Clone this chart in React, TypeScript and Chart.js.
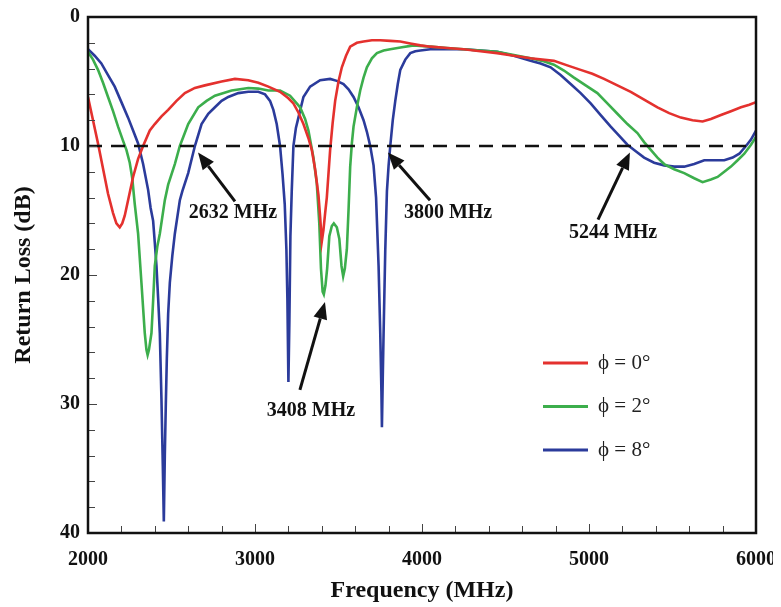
import React, { useEffect, useRef } from "react";
import { Chart, registerables } from "chart.js";

Chart.register(...registerables);

const FONT = '"Liberation Serif", "Times New Roman", serif';

// ---- data (frequency in MHz, return loss in dB) ----
const phi0Freq = [2000, 2060, 2120, 2150, 2170, 2190, 2205, 2220, 2240, 2270, 2300, 2330, 2370, 2400, 2440, 2480, 2530, 2580, 2640, 2700, 2800, 2880, 2960, 3020, 3080, 3150, 3200, 3230, 3260, 3290, 3320, 3340, 3360, 3380, 3390, 3400, 3410, 3420, 3430, 3450, 3465, 3480, 3500, 3520, 3545, 3570, 3610, 3650, 3700, 3750, 3810, 3870, 3930, 3990, 4050, 4150, 4250, 4350, 4450, 4550, 4650, 4790, 4870, 4950, 5020, 5090, 5170, 5250, 5330, 5410, 5480, 5550, 5620, 5680, 5730, 5790, 5850, 5910, 5960, 6000];
const phi0Loss = [6.2, 9.8, 13.7, 15.2, 16.0, 16.3, 16.0, 15.4, 14.2, 12.4, 11.0, 10.0, 8.8, 8.3, 7.7, 7.2, 6.5, 5.9, 5.5, 5.3, 5.0, 4.8, 4.9, 5.1, 5.4, 5.8, 6.3, 6.7, 7.4, 8.3, 9.4, 10.3, 11.8, 13.8, 15.5, 17.4, 16.5, 15.2, 14.0, 10.3, 8.2, 6.5, 5.0, 3.9, 3.0, 2.3, 2.0, 1.9, 1.8, 1.8, 1.85, 1.9, 2.05, 2.2, 2.3, 2.4, 2.5, 2.65, 2.8, 3.0, 3.2, 3.4, 3.75, 4.1, 4.4, 4.8, 5.3, 5.8, 6.4, 7.0, 7.45, 7.8, 8.0, 8.1, 7.9, 7.6, 7.3, 7.0, 6.8, 6.6];

const phi2Freq = [2000, 2030, 2060, 2090, 2120, 2150, 2180, 2210, 2230, 2250, 2265, 2280, 2300, 2320, 2340, 2350, 2357, 2365, 2380, 2390, 2400, 2415, 2430, 2460, 2480, 2520, 2550, 2600, 2660, 2710, 2760, 2860, 2960, 3020, 3080, 3150, 3210, 3270, 3300, 3320, 3350, 3370, 3385, 3395, 3405, 3412, 3422, 3432, 3445, 3460, 3472, 3490, 3505, 3518, 3528, 3538, 3550, 3560, 3570, 3580, 3590, 3610, 3630, 3650, 3670, 3700, 3730, 3770, 3810, 3880, 3950, 4050, 4150, 4250, 4350, 4450, 4550, 4650, 4720, 4790, 4850, 4910, 4980, 5050, 5110, 5170, 5230, 5290, 5330, 5370, 5410, 5450, 5510, 5570, 5630, 5680, 5730, 5770, 5810, 5850, 5890, 5930, 5970, 6000];
const phi2Loss = [2.7, 3.3, 4.1, 5.1, 6.2, 7.3, 8.5, 9.6, 10.3, 11.3, 12.5, 14.5, 16.8, 20.6, 24.5, 25.8, 26.2, 25.8, 24.5, 22.0, 19.3, 17.8, 16.8, 14.2, 13.0, 11.4, 10.0, 8.3, 7.0, 6.5, 6.1, 5.7, 5.5, 5.55, 5.7, 5.7, 6.1, 7.0, 7.9, 8.8, 10.9, 12.9, 16.0, 19.5, 21.3, 21.5, 20.8, 19.5, 17.0, 16.2, 16.0, 16.3, 17.2, 19.3, 20.1, 19.5, 18.0, 15.0, 11.6, 9.8, 8.5, 7.0, 5.7, 4.7, 3.9, 3.2, 2.8, 2.6, 2.5, 2.35, 2.2, 2.3, 2.4, 2.5, 2.6, 2.7, 2.95, 3.2, 3.4, 3.7, 4.15, 4.7, 5.3, 5.9, 6.7, 7.5, 8.3, 9.0, 9.7, 10.3, 10.9, 11.4, 11.8, 12.1, 12.5, 12.8, 12.6, 12.4, 12.0, 11.6, 11.1, 10.6, 9.9, 9.3];

const phi8Freq = [2000, 2040, 2080, 2120, 2160, 2200, 2240, 2270, 2300, 2330, 2360, 2375, 2390, 2400, 2410, 2420, 2430, 2440, 2448, 2454, 2460, 2466, 2472, 2480, 2490, 2505, 2520, 2550, 2565, 2600, 2640, 2680, 2720, 2760, 2800, 2840, 2900, 2960, 3020, 3060, 3090, 3110, 3130, 3150, 3165, 3178, 3188, 3194, 3200, 3206, 3212, 3220, 3230, 3245, 3260, 3290, 3330, 3390, 3450, 3490, 3530, 3560, 3590, 3620, 3650, 3670, 3690, 3710, 3725, 3740, 3750, 3757, 3760, 3765, 3770, 3780, 3790, 3800, 3810, 3825, 3840, 3855, 3870, 3900, 3930, 3960, 3990, 4050, 4150, 4250, 4350, 4450, 4550, 4650, 4710, 4770, 4830, 4890, 4950, 5010, 5070, 5130, 5180, 5230, 5280, 5330, 5390, 5450, 5510, 5570, 5630, 5690, 5750, 5810, 5860, 5900, 5940, 5970, 6000];
const phi8Loss = [2.5, 3.0, 3.6, 4.5, 5.4, 6.6, 7.8, 8.8, 9.8, 11.4, 13.4, 14.8, 15.8, 17.5, 19.3, 21.8, 24.5, 29.7, 34.8, 39.1, 34.0, 30.0, 26.5, 23.0, 20.6, 18.5, 16.8, 14.2, 13.5, 12.1, 10.0, 8.3, 7.5, 7.0, 6.5, 6.2, 5.9, 5.8, 5.8, 6.0, 6.5, 7.2, 8.3, 10.0, 12.2, 14.5, 18.0, 21.9, 28.3, 23.5, 17.0, 13.5, 10.0, 8.6, 7.8, 6.2, 5.4, 4.9, 4.8, 4.95, 5.2, 5.6, 6.2, 7.0, 8.0, 8.9, 10.0, 11.5, 14.0, 19.3, 24.5, 29.0, 31.8, 28.0, 24.5, 18.1, 13.5, 11.5, 10.0, 8.0, 6.5, 5.2, 4.1, 3.3, 2.8, 2.65, 2.6, 2.5, 2.5, 2.5, 2.6, 2.7, 3.0, 3.4, 3.6, 3.9, 4.5, 5.2, 5.9, 6.7, 7.6, 8.5, 9.2, 9.9, 10.4, 10.9, 11.3, 11.5, 11.6, 11.6, 11.4, 11.1, 11.1, 11.1, 10.9, 10.6, 10.0, 9.5, 8.8];

const seriesLabels = ["\u03D5 = 0\u00B0", "\u03D5 = 2\u00B0", "\u03D5 = 8\u00B0"];
const seriesColors = ["#e4312e", "#3cae4c", "#2b3b9b"];

const xMin = 2000;
const xMax = 6000;
const yMin = 0;
const yMax = 40;
const xMajorStep = 1000;
const yMajorStep = 10;
const xMinorTicks = [2200, 2400, 2600, 2800, 3000, 3200, 3400, 3600, 3800, 4000, 4200, 4400, 4600, 4800, 5000, 5200, 5400, 5600, 5800];
const yMinorTicks = [2, 4, 6, 8, 10, 12, 14, 16, 18, 20, 22, 24, 26, 28, 30, 32, 34, 36, 38];

const thresholdFreq = [2000, 6000];
const thresholdLoss = [10, 10];

const annotationLabels = ["2632 MHz", "3800 MHz", "5244 MHz", "3408 MHz"];
const annotationTipFreq = [2659, 3796, 5245, 3419];
const annotationTipLoss = [10.5, 10.5, 10.5, 22.1];
const annotationTailFreq = [2880, 4048, 5054, 3269];
const annotationTailLoss = [14.3, 14.2, 15.7, 28.9];
const annotationTextFreq = [2868, 4156, 5144, 3335];
const annotationTextLoss = [15.2, 15.2, 16.7, 30.5];

const toPoints = (xs: number[], ys: number[]) => xs.map((x, i) => ({ x, y: ys[i] }));

const decorPlugin = {
  id: "decor",
  afterDatasetsDraw(chart: any) {
    const { ctx, chartArea, scales } = chart;
    const xs = scales.x;
    const ys = scales.y;
    ctx.save();

    // minor / major ticks inside the frame
    ctx.strokeStyle = "#444";
    ctx.lineWidth = 1;
    xMinorTicks.forEach((v) => {
      const px = Math.round(xs.getPixelForValue(v)) + 0.5;
      const len = v % xMajorStep === 0 ? 9 : 7;
      ctx.beginPath();
      ctx.moveTo(px, chartArea.bottom);
      ctx.lineTo(px, chartArea.bottom - len);
      ctx.stroke();
    });
    yMinorTicks.forEach((v) => {
      const py = Math.round(ys.getPixelForValue(v)) + 0.5;
      const len = v % yMajorStep === 0 ? 9 : 7;
      ctx.beginPath();
      ctx.moveTo(chartArea.left, py);
      ctx.lineTo(chartArea.left + len, py);
      ctx.stroke();
    });

    // frame
    ctx.strokeStyle = "#111";
    ctx.lineWidth = 2.5;
    ctx.strokeRect(chartArea.left, chartArea.top, chartArea.right - chartArea.left, chartArea.bottom - chartArea.top);

    // annotation arrows
    ctx.strokeStyle = "#111";
    ctx.fillStyle = "#111";
    annotationLabels.forEach((label, i) => {
      const tx = xs.getPixelForValue(annotationTipFreq[i]);
      const ty = ys.getPixelForValue(annotationTipLoss[i]);
      const sx = xs.getPixelForValue(annotationTailFreq[i]);
      const sy = ys.getPixelForValue(annotationTailLoss[i]);
      const ang = Math.atan2(ty - sy, tx - sx);
      const headLen = 17;
      const headHalf = 7;
      const bx = tx - headLen * Math.cos(ang);
      const by = ty - headLen * Math.sin(ang);
      ctx.lineWidth = 3;
      ctx.beginPath();
      ctx.moveTo(sx, sy);
      ctx.lineTo(bx, by);
      ctx.stroke();
      ctx.beginPath();
      ctx.moveTo(tx, ty);
      ctx.lineTo(bx + headHalf * Math.sin(ang), by - headHalf * Math.cos(ang));
      ctx.lineTo(bx - headHalf * Math.sin(ang), by + headHalf * Math.cos(ang));
      ctx.closePath();
      ctx.fill();

      ctx.font = `bold 20px ${FONT}`;
      ctx.textAlign = "center";
      ctx.textBaseline = "middle";
      ctx.fillText(label, xs.getPixelForValue(annotationTextFreq[i]), ys.getPixelForValue(annotationTextLoss[i]));
    });

    // legend
    const lx0 = chartArea.right - 213;
    const lx1 = lx0 + 45;
    const ly0 = chartArea.top + 346;
    const lstep = 43.5;
    seriesLabels.forEach((label, i) => {
      const y = ly0 + i * lstep;
      ctx.strokeStyle = seriesColors[i];
      ctx.lineWidth = 3;
      ctx.beginPath();
      ctx.moveTo(lx0, y);
      ctx.lineTo(lx1, y);
      ctx.stroke();
      ctx.fillStyle = "#222";
      ctx.font = `21px ${FONT}`;
      ctx.textAlign = "left";
      ctx.textBaseline = "middle";
      ctx.fillText(label, lx1 + 10, y);
    });

    ctx.restore();
  },
};

export default function App() {
  const canvasRef = useRef<HTMLCanvasElement | null>(null);

  useEffect(() => {
    if (!canvasRef.current) return;
    const lineDs = (label: string, xs: number[], ys: number[], color: string) => ({
      label,
      data: toPoints(xs, ys),
      borderColor: color,
      backgroundColor: color,
      borderWidth: 2.6,
      pointRadius: 0,
      tension: 0,
      fill: false,
    });
    const chart = new Chart(canvasRef.current, {
      type: "line",
      data: {
        datasets: [
          {
            label: "10 dB",
            data: toPoints(thresholdFreq, thresholdLoss),
            borderColor: "#111",
            borderWidth: 2.6,
            borderDash: [14, 9],
            pointRadius: 0,
            fill: false,
          },
          lineDs(seriesLabels[0], phi0Freq, phi0Loss, seriesColors[0]),
          lineDs(seriesLabels[1], phi2Freq, phi2Loss, seriesColors[1]),
          lineDs(seriesLabels[2], phi8Freq, phi8Loss, seriesColors[2]),
        ],
      },
      options: {
        responsive: false,
        animation: false,
        layout: { padding: { top: 9, right: 17, left: 0, bottom: 8 } },
        plugins: { legend: { display: false }, tooltip: { enabled: false } },
        scales: {
          x: {
            type: "linear",
            min: xMin,
            max: xMax,
            grid: { display: false, drawTicks: false },
            border: { display: false },
            ticks: {
              stepSize: xMajorStep,
              padding: 15,
              color: "#111",
              font: { family: FONT, size: 20, weight: "bold" },
              maxRotation: 0,
              callback: (v: any) => String(v),
            },
            title: {
              display: true,
              text: "Frequency (MHz)",
              color: "#111",
              font: { family: FONT, size: 24, weight: "bold", lineHeight: 0.7 },
              padding: { top: 0, bottom: 0 },
            },
            afterFit: (scale: any) => {
              scale.height = 66;
              scale.paddingLeft = 0;
              scale.paddingRight = 0;
            },
          },
          y: {
            type: "linear",
            min: yMin,
            max: yMax,
            reverse: true,
            grid: { display: false, drawTicks: false },
            border: { display: false },
            ticks: {
              stepSize: yMajorStep,
              padding: 8,
              color: "#111",
              font: { family: FONT, size: 20, weight: "bold" },
              callback: (v: any) => String(v),
            },
            title: {
              display: true,
              text: "Return Loss (dB)",
              color: "#111",
              font: { family: FONT, size: 24, weight: "bold", lineHeight: 1 },
              padding: { top: 4, bottom: 0 },
            },
            afterFit: (scale: any) => {
              scale.width = 80;
              scale.paddingTop = 0;
              scale.paddingBottom = 0;
            },
          },
        },
      },
      plugins: [decorPlugin],
    } as any);
    return () => chart.destroy();
  }, []);

  return (
    <div style={{ width: 765, height: 599 }}>
      <canvas ref={canvasRef} width={765} height={599} style={{ display: "block" }} />
    </div>
  );
}
